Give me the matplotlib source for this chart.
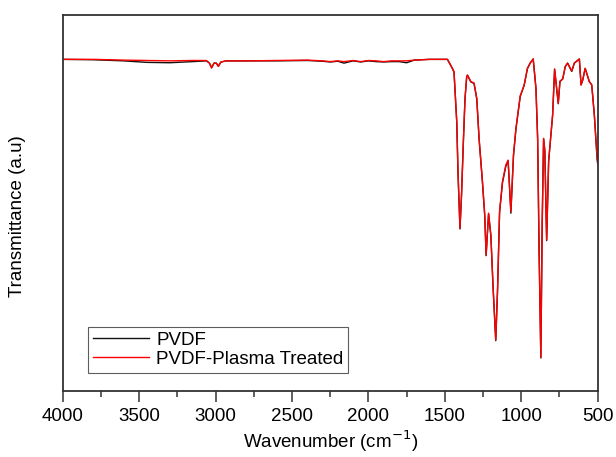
import matplotlib
matplotlib.use("Agg")
import matplotlib.pyplot as plt
from matplotlib.ticker import MultipleLocator

plt.rcParams['font.family'] = ['Liberation Sans', 'DejaVu Sans']

# FTIR spectra (wavenumber in cm-1, transmittance in a.u.)
wavenumber = [4000, 3800, 3600, 3450, 3300, 3150, 3060, 3040, 3026, 3010, 2995,
              2982, 2965, 2930, 2800, 2600, 2400, 2300, 2250, 2200, 2160, 2100,
              2050, 2000, 1950, 1900, 1850, 1800, 1750, 1700, 1600, 1520, 1483,
              1450, 1440, 1422, 1414, 1401, 1391, 1378, 1368, 1357, 1352,
              1330, 1309, 1291, 1276, 1254, 1239, 1230, 1214, 1199, 1184,
              1167, 1155, 1142, 1123, 1101, 1086, 1068, 1051, 1035, 1007,
              981, 960, 942, 922, 904, 893, 883, 872, 863, 854, 846, 834,
              821, 811, 795, 782, 758, 747, 729, 712, 697, 670, 653, 620,
              609, 598, 582, 555, 539, 522, 504, 500]

pvdf = [88.2, 88.1, 87.8, 87.4, 87.3, 87.6, 87.8, 87.2, 86.0, 87.2, 87.2,
        86.4, 87.5, 87.8, 87.8, 87.8, 87.9, 87.7, 87.5, 87.7, 87.2, 87.8,
        87.5, 87.8, 87.6, 87.5, 87.6, 87.6, 87.3, 88.0, 88.2, 88.2, 88.2,
        85.7, 84.8, 71.4, 58.1, 43.1, 52.0, 67.2, 77.8, 83.6, 84.0,
        82.2, 81.8, 77.6, 67.0, 55.5, 46.6, 36.0, 47.1, 41.3, 27.1,
        13.4, 27.1, 47.5, 55.4, 59.8, 61.2, 47.3, 62.6, 69.6, 78.3,
        81.3, 85.7, 87.2, 88.3, 80.5, 67.2, 36.2, 8.8, 45.0, 67.1, 63.9, 40.0,
        61.1, 65.8, 73.3, 85.6, 76.4, 82.3, 83.0, 86.3, 87.2, 85.0, 87.2, 88.3,
        81.4, 82.7, 85.8, 82.3, 81.4, 73.4, 61.9, 60.5]

pvdf_plasma = [88.2, 88.2, 88.0, 87.9, 87.8, 87.9, 87.9, 87.2, 85.9, 87.2, 87.2,
               86.3, 87.5, 87.8, 87.8, 87.9, 88.0, 87.8, 87.6, 87.8, 87.6, 87.9,
               87.6, 87.9, 87.8, 87.6, 87.8, 87.8, 87.8, 88.0, 88.2, 88.2, 88.2,
               85.8, 84.9, 71.6, 58.3, 43.3, 52.1, 67.3, 77.9, 83.6, 84.0,
               82.3, 81.9, 77.8, 67.2, 55.7, 46.8, 36.2, 47.3, 41.5, 27.3,
               13.6, 27.3, 47.7, 55.7, 60.1, 61.4, 47.7, 62.8, 69.9, 78.5,
               81.4, 85.8, 87.2, 88.3, 80.5, 67.2, 36.2, 8.9, 45.0, 67.2, 64.0, 40.2,
               61.2, 65.9, 73.4, 85.6, 76.5, 82.4, 83.0, 86.3, 87.2, 85.1, 87.2, 88.3,
               81.4, 82.7, 85.8, 82.3, 81.4, 73.4, 61.9, 60.5]

fig = plt.figure(figsize=(6.16, 4.57), dpi=100)
ax = fig.add_axes([0.1018, 0.1444, 0.8685, 0.8228])

ax.plot(wavenumber, pvdf, color='#111111', lw=1.0, label='PVDF')
ax.plot(wavenumber, pvdf_plasma, color='#ff0000', lw=1.0, label='PVDF-Plasma Treated')

ax.set_xlim(4000, 500)
ax.set_ylim(0, 100)
ax.xaxis.set_major_locator(MultipleLocator(500))
ax.xaxis.set_minor_locator(MultipleLocator(250))
ax.tick_params(axis='x', which='major', direction='out', length=8, width=1.1,
               labelsize=13.5, pad=4, color='#333333')
ax.tick_params(axis='x', which='minor', direction='out', length=4, width=1.1,
               color='#333333')
ax.set_yticks([])

for sp in ax.spines.values():
    sp.set_linewidth(1.3)
    sp.set_color('#333333')

ax.set_xlabel('Wavenumber (cm$^{-1}$)', fontsize=13.5, labelpad=3)
ax.set_ylabel('Transmittance (a.u)', fontsize=13.5)
ax.yaxis.set_label_coords(-0.068, 0.465)

leg = ax.legend(loc='lower left', bbox_to_anchor=(0.047, 0.049), borderaxespad=0,
                fontsize=13.5, frameon=True, fancybox=False, handlelength=3.0,
                handletextpad=0.4, borderpad=0.25, labelspacing=0.1)
leg.get_frame().set_edgecolor('#333333')
leg.get_frame().set_linewidth(0.8)

fig.savefig('out.png', dpi=100)
